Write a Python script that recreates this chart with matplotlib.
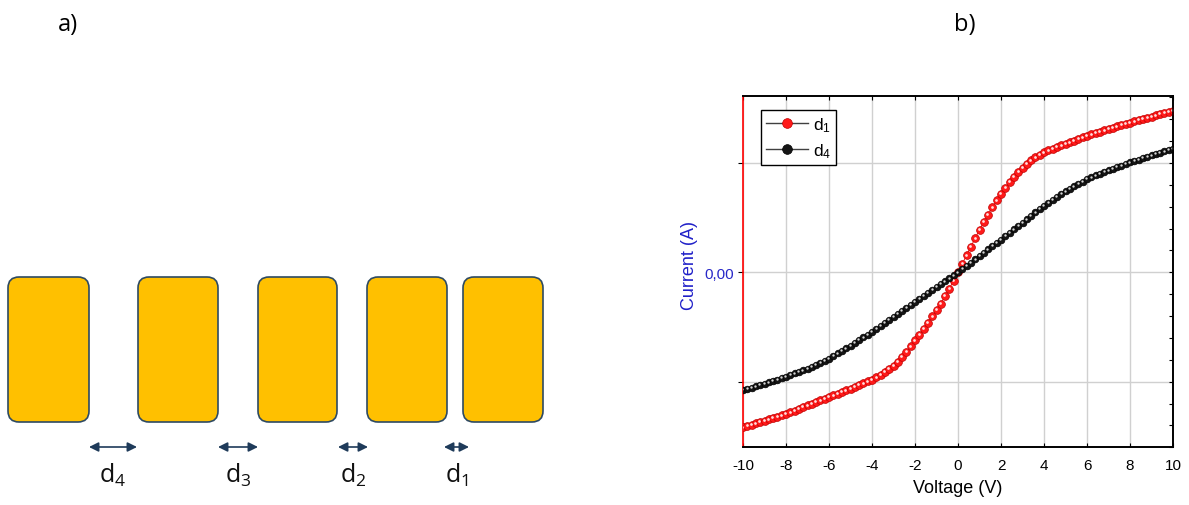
# a) electrode schematic, b) I-V curves for two gaps

import numpy as np
import matplotlib
matplotlib.use("Agg")
import matplotlib.pyplot as plt
from matplotlib.patches import FancyBboxPatch
from matplotlib.lines import Line2D
from matplotlib.transforms import offset_copy

# ---- schematic (panel a), in image pixels
electrode_left = [8, 138, 258, 367, 463]
electrode_right = [89, 218, 337, 447, 543]
electrode_top = 278
electrode_bottom = 423
gap_names = ["4", "3", "2", "1"]
arrow_left = [89, 218, 338, 444]
arrow_right = [137, 258, 368, 469]

# ---- I-V sweep (panel b)
voltage = np.round(np.arange(-10, 10.001, 0.2), 1)

current_d1 = [
    -1.418, -1.406, -1.394, -1.382, -1.369, -1.357, -1.345, -1.332, -1.320, -1.307,
    -1.294, -1.280, -1.265, -1.250, -1.233, -1.216, -1.200, -1.185, -1.170, -1.155,
    -1.140, -1.125, -1.110, -1.095, -1.080, -1.065, -1.049, -1.032, -1.015, -0.998,
    -0.980, -0.960, -0.938, -0.913, -0.884, -0.852, -0.816, -0.776, -0.730, -0.678,
    -0.622, -0.570, -0.516, -0.460, -0.402, -0.345, -0.285, -0.218, -0.148, -0.075,
    0.000, 0.078, 0.156, 0.234, 0.312, 0.390, 0.460, 0.528, 0.594, 0.658,
    0.720, 0.775, 0.826, 0.874, 0.918, 0.958, 0.994, 1.025, 1.052, 1.076,
    1.098, 1.115, 1.131, 1.146, 1.161, 1.175, 1.190, 1.205, 1.220, 1.235,
    1.250, 1.262, 1.274, 1.286, 1.298, 1.310, 1.322, 1.334, 1.346, 1.358,
    1.370, 1.381, 1.392, 1.403, 1.414, 1.425, 1.436, 1.447, 1.458, 1.469,
    1.480,
]

current_d4 = [
    -1.076, -1.065, -1.054, -1.043, -1.031, -1.020, -1.007, -0.994, -0.981, -0.968,
    -0.955, -0.940, -0.925, -0.910, -0.895, -0.880, -0.862, -0.844, -0.826, -0.808,
    -0.790, -0.766, -0.742, -0.718, -0.694, -0.670, -0.645, -0.620, -0.595, -0.570,
    -0.545, -0.518, -0.491, -0.464, -0.437, -0.410, -0.382, -0.354, -0.326, -0.298,
    -0.270, -0.243, -0.216, -0.189, -0.162, -0.135, -0.108, -0.081, -0.054, -0.027,
    0.000, 0.030, 0.060, 0.090, 0.120, 0.150, 0.180, 0.210, 0.240, 0.270,
    0.300, 0.331, 0.362, 0.393, 0.424, 0.455, 0.486, 0.517, 0.548, 0.579,
    0.610, 0.637, 0.664, 0.690, 0.716, 0.742, 0.764, 0.786, 0.808, 0.830,
    0.852, 0.869, 0.886, 0.902, 0.918, 0.934, 0.949, 0.963, 0.977, 0.991,
    1.005, 1.018, 1.031, 1.044, 1.057, 1.070, 1.082, 1.094, 1.106, 1.118,
    1.130,
]

W, H = 1189, 506
fig = plt.figure(figsize=(W / 100, H / 100), dpi=100)

# ---------------- panel a ----------------
ax_a = fig.add_axes([0, 0, 594.5 / W, 1])
ax_a.set_xlim(0, 594.5)
ax_a.set_ylim(H, 0)
ax_a.axis("off")

for left, right in zip(electrode_left, electrode_right):
    box = FancyBboxPatch((left, electrode_top), right - left, electrode_bottom - electrode_top,
                         boxstyle="round,pad=0,rounding_size=11",
                         facecolor="#FFC000", edgecolor="#2E4A62", linewidth=1.2)
    ax_a.add_patch(box)

for name, x0, x1 in zip(gap_names, arrow_left, arrow_right):
    ax_a.annotate("", xy=(x1, 448), xytext=(x0, 448),
                  arrowprops=dict(arrowstyle="<|-|>", color="#1F3B5A", lw=1.2,
                                  mutation_scale=14, shrinkA=0, shrinkB=0))
    ax_a.text((x0 + x1) / 2, 483, r"$\mathregular{d_%s}$" % name, ha="center",
              va="baseline", fontsize=18, family="Open Sans", color="#111111")

fig.text(68 / W, 1 - 25 / H, "a)", ha="center", va="center", fontsize=17, family="Open Sans")
fig.text(965 / W, 1 - 25 / H, "b)", ha="center", va="center", fontsize=17, family="Open Sans")

# ---------------- panel b ----------------
plt.rcParams["font.family"] = ["Liberation Sans", "DejaVu Sans"]
ax = fig.add_axes([743 / W, 1 - 448.3 / H, 430 / W, 351 / H])

series = [
    (current_d1, "#FF1A1A", "#C00000", "#FFE0E0", 5.6, "1"),
    (current_d4, "#151515", "#000000", "#D8D8D8", 4.8, "4"),
]
handles = []
for vals, face, edge, shine, ms, name in series:
    ax.plot(voltage, vals, color=face, lw=0.7, marker="o", ms=ms,
            markerfacecolor=face, markeredgecolor=edge, markeredgewidth=0.5, zorder=3)
    # small highlight to mimic the shaded balls
    hl = offset_copy(ax.transData, fig=fig, x=-0.7, y=0.7, units="dots")
    ax.plot(voltage, vals, ls="none", marker="o", ms=ms * 0.35, markerfacecolor=shine,
            markeredgewidth=0, transform=hl, zorder=3)
    handles.append(Line2D([], [], color="#404040", lw=1.0, marker="o", ms=7,
                          markerfacecolor=face, markeredgecolor=edge, markeredgewidth=0.5,
                          label=r"$\mathregular{d_%s}$" % name))

ax.set_xlim(-10, 10)
ax.set_ylim(-1.6, 1.61)
ax.set_xticks(np.arange(-10, 11, 2))
ax.set_xticklabels([str(v) for v in range(-10, 11, 2)])
ax.set_yticks([-1, 0, 1])
ax.set_yticklabels(["", "0,00", ""])
ax.grid(True, color="#D0D0D0", lw=1.0, zorder=0)
ax.set_axisbelow(True)

ax.tick_params(axis="x", direction="in", length=3, top=True, labelsize=11, pad=8, color="black")
ax.tick_params(axis="y", direction="out", length=3.5, labelsize=11, labelcolor="#2828C8", pad=3)

for side in ["top", "right", "bottom"]:
    ax.spines[side].set_color("black")
    ax.spines[side].set_linewidth(1.2)
ax.spines["left"].set_color("red")
ax.spines["left"].set_linewidth(1.2)

# right side: fine inward ticks
ax_r = ax.twinx()
ax_r.set_ylim(ax.get_ylim())
ax_r.set_yticks(np.arange(-1.6, 1.61, 0.2))
ax_r.tick_params(axis="y", direction="in", length=3, labelright=False)
ax_r.spines["left"].set_visible(False)
for side in ["top", "right", "bottom"]:
    ax_r.spines[side].set_color("black")
    ax_r.spines[side].set_linewidth(1.2)

ax.set_xlabel("Voltage (V)", fontsize=13, labelpad=5)
ax.set_ylabel("Current (A)", fontsize=13, color="#2020C8")
ax.yaxis.set_label_coords(-0.105, 0.52)

leg = ax.legend(handles=handles, loc="upper left", bbox_to_anchor=(0.041, 0.962),
                borderaxespad=0, fontsize=12.5, handlelength=2.4, handletextpad=0.3,
                labelspacing=0.45, borderpad=0.3, fancybox=False, framealpha=1,
                edgecolor="black")
leg.get_frame().set_linewidth(1.0)
leg.set_zorder(5)

plt.savefig("out.png", dpi=100)
